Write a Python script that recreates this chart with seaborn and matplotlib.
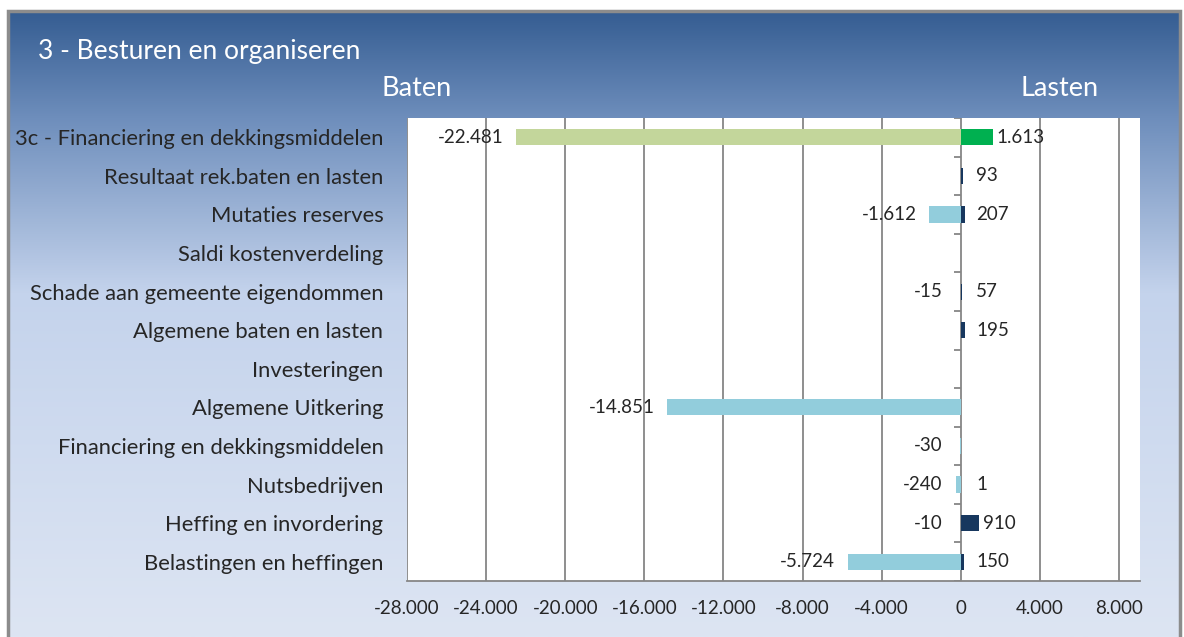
import numpy as np
import pandas as pd
import matplotlib.pyplot as plt
import seaborn as sns
from matplotlib.colors import LinearSegmentedColormap
from matplotlib.patches import Rectangle

# ─── Data ─────────────────────────────────────────────────────────────────────
categories = [
    "3c - Financiering en dekkingsmiddelen",
    "Resultaat rek.baten en lasten",
    "Mutaties reserves",
    "Saldi kostenverdeling",
    "Schade aan gemeente eigendommen",
    "Algemene baten en lasten",
    "Investeringen",
    "Algemene Uitkering",
    "Financiering en dekkingsmiddelen",
    "Nutsbedrijven",
    "Heffing en invordering",
    "Belastingen en heffingen",
]
baten = [-22481, np.nan, -1612, np.nan, -15, np.nan, np.nan, -14851, -30, -240, -10, -5724]
lasten = [1613, 93, 207, np.nan, 57, 195, np.nan, np.nan, np.nan, 1, 910, 150]
x_ticks = list(range(-28000, 8001, 4000))

TITLE = "3 - Besturen en organiseren"
FONT = "Lato"
GRID = "#868686"
# ──────────────────────────────────────────────────────────────────────────────

df = pd.DataFrame({"cat": categories, "baten": baten, "lasten": lasten})

sns.set_style("white")
plt.rcParams["font.family"] = [FONT, "DejaVu Sans"]

fig = plt.figure(figsize=(11.84, 6.37), dpi=100)
fig.patch.set_facecolor("white")
W, H = 1184, 637

# gradient background inside a grey frame
bg = fig.add_axes([0, 0, 1, 1], zorder=-5)
bg.set_axis_off()
cmap = LinearSegmentedColormap.from_list(
    "bg", [(0, "#355D92"), (0.17, "#6E8EBC"), (0.45, "#C4D3EC"), (1.0, "#DDE5F3")])
grad = np.linspace(0, 1, 256).reshape(-1, 1)
bg.imshow(grad, cmap=cmap, aspect="auto",
          extent=[8 / W, 1180 / W, 0, 1 - 11 / H])
bg.set_xlim(0, 1)
bg.set_ylim(0, 1)
bg.add_patch(Rectangle((8 / W, -0.01), (1180 - 8) / W, 1.01 - 11 / H,
                       fill=False, edgecolor="#8C8C8C", lw=2.5))

ax = fig.add_axes([407 / W, 1 - 581 / H, (1140 - 407) / W, (581 - 118) / H])
ax.set_facecolor("white")

baten_colors = ["#C3D69B"] + ["#92CDDC"] * (len(categories) - 1)
lasten_colors = ["#00B050"] + ["#17375E"] * (len(categories) - 1)

sns.barplot(data=df.fillna(0), x="baten", y="cat", hue="cat", order=categories,
            palette=baten_colors, legend=False, orient="h", width=0.42,
            linewidth=0, saturation=1, ax=ax, zorder=3)
sns.barplot(data=df.fillna(0), x="lasten", y="cat", hue="cat", order=categories,
            palette=lasten_colors, legend=False, orient="h", width=0.42,
            linewidth=0, saturation=1, ax=ax, zorder=3)

ax.set_xlim(-28000, 9060)
ax.set_ylim(len(categories) - 0.5, -0.5)
ax.set_xticks(x_ticks)
ax.set_xticklabels([f"{t:,}".replace(",", ".") for t in x_ticks], fontsize=13.5)
ax.grid(axis="x", color=GRID, lw=1.3, zorder=1)
ax.set_axisbelow(True)
ax.set_xlabel("")
ax.set_ylabel("")
ax.tick_params(axis="x", length=6, color=GRID, width=1.3, pad=8)
ax.tick_params(axis="y", length=0, pad=17, labelsize=15.8)
for s in ["top", "right", "left"]:
    ax.spines[s].set_visible(False)
ax.spines["bottom"].set_color(GRID)
ax.spines["bottom"].set_linewidth(1.3)

# category separator ticks on the zero axis
ax.hlines(np.arange(-0.5, len(categories)), -350, 0, color=GRID, lw=1.3, zorder=2)


def nl(v):
    return f"{v:,.0f}".replace(",", ".")


for i, (b, l) in enumerate(zip(baten, lasten)):
    if not np.isnan(b):
        ax.annotate(nl(b), (min(b, -300), i), xytext=(-9, 0), textcoords="offset points",
                    ha="right", va="center", fontsize=13.5, zorder=5)
    if not np.isnan(l):
        ax.annotate(nl(l), (max(l, 560), i), xytext=(3, 0), textcoords="offset points",
                    ha="left", va="center", fontsize=13.5, zorder=5)

fig.text(38 / W, 1 - 52 / H, TITLE, color="white", fontsize=19, ha="left", va="center")
fig.text(417 / W, 1 - 88 / H, "Baten", color="white", fontsize=19.5, ha="center", va="center")
fig.text(1060 / W, 1 - 88 / H, "Lasten", color="white", fontsize=19.5, ha="center", va="center")

fig.savefig("out.png", dpi=100)
